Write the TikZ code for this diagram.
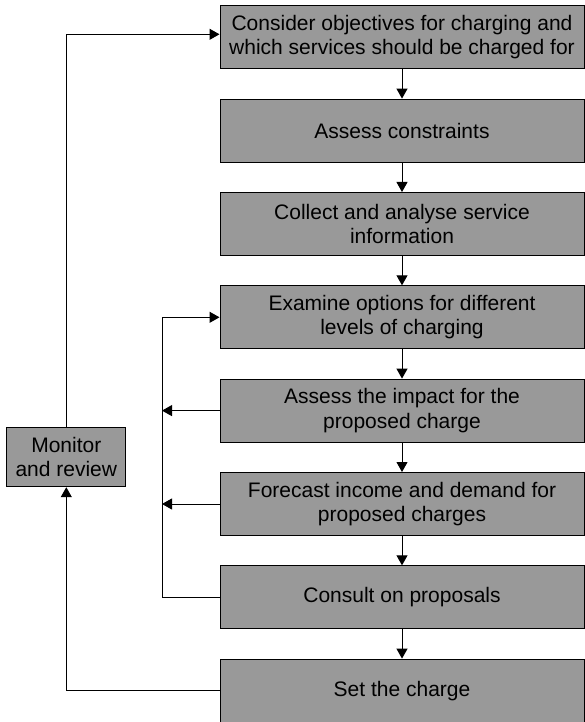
\documentclass[tikz,border=0pt]{standalone}
\usepackage{fontspec}
\setmainfont{Liberation Sans}
\usetikzlibrary{arrows.meta}
\definecolor{boxgray}{HTML}{999999}
\tikzset{
  stepbox/.style={draw=black, line width=1pt, fill=boxgray, minimum width=364pt,
    minimum height=63pt, align=center, inner sep=2pt,
    font=\fontsize{21}{24.5}\selectfont},
  sidebox/.style={stepbox, minimum width=119pt, minimum height=59pt},
  flow/.style={draw=black, line width=1pt, -{Triangle[length=10pt,width=11pt]}},
  plain/.style={draw=black, line width=1pt}
}
\begin{document}
\begin{tikzpicture}[x=1pt, y=-1pt]
  \useasboundingbox (0,0) rectangle (585,722);
  % main sequence of steps
  \node[stepbox] (b1) at (402,37.3) {Consider objectives for charging and\\which services should be charged for};
  \node[stepbox] (b2) at (402,130.6) {Assess constraints};
  \node[stepbox] (b3) at (402,224) {Collect and analyse service\\information};
  \node[stepbox] (b4) at (402,317.3) {Examine options for different\\levels of charging};
  \node[stepbox] (b5) at (402,410.6) {Assess the impact for the\\proposed charge};
  \node[stepbox] (b6) at (402,504) {Forecast income and demand for\\proposed charges};
  \node[stepbox] (b7) at (402,597.3) {Consult on proposals};
  \node[stepbox] (b8) at (402,690.6) {Set the charge};
  % monitoring step on the left
  \node[sidebox] (mon) at (66.3,457.2) {Monitor\\and review};

  % downward flow
  \draw[flow] (b1) -- (b2);
  \draw[flow] (b2) -- (b3);
  \draw[flow] (b3) -- (b4);
  \draw[flow] (b4) -- (b5);
  \draw[flow] (b5) -- (b6);
  \draw[flow] (b6) -- (b7);
  \draw[flow] (b7) -- (b8);

  % inner feedback loop from consultation back to options
  \coordinate (lx) at (162,0);
  \draw[plain] (b7.west) -- (b7.west -| lx);
  \draw[flow] (b7.west -| lx) -- (b4.west -| lx) -- (b4.west);
  \draw[flow] (b5.west) -- (b5.west -| lx);
  \draw[flow] (b6.west) -- (b6.west -| lx);

  % outer loop through monitoring and review
  \draw[flow] (b8.west) -| (mon.south);
  \draw[flow] (mon.north) |- ([yshift=3pt]b1.west);
\end{tikzpicture}
\end{document}
